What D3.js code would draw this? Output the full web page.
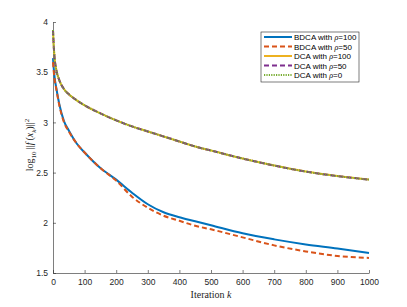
<!DOCTYPE html>
<html>
<head>
<meta charset="utf-8">
<script src="https://cdn.jsdelivr.net/npm/d3@7"></script>
<style>
  body { margin: 0; background: #fff; }
  .tick text { font-family: "Liberation Sans", Arial, sans-serif; font-size: 8.5px; fill: #262626; }
  .lab { font-family: "Liberation Serif", serif; font-size: 10px; fill: #262626; }
  .leg { font-family: "Liberation Sans", Arial, sans-serif; font-size: 8px; fill: #000; }
</style>
</head>
<body>
<script>
var iters = [0, 2, 5, 10, 20, 35, 50, 75, 100, 150, 200, 250, 300, 350, 400, 450, 500, 600, 700, 800, 900, 1000];

var bdca100 = [3.64, 3.55, 3.45, 3.35, 3.18, 3.01, 2.92, 2.79, 2.70, 2.545, 2.43, 2.30, 2.185, 2.105, 2.055, 2.015, 1.975, 1.895, 1.835, 1.785, 1.745, 1.70];
var bdca50  = [3.60, 3.52, 3.43, 3.34, 3.17, 3.00, 2.91, 2.79, 2.70, 2.545, 2.42, 2.26, 2.15, 2.07, 2.02, 1.97, 1.935, 1.855, 1.775, 1.715, 1.67, 1.65];
var dca     = [3.92, 3.78, 3.64, 3.53, 3.42, 3.33, 3.28, 3.22, 3.17, 3.09, 3.02, 2.96, 2.91, 2.86, 2.81, 2.76, 2.72, 2.64, 2.57, 2.51, 2.465, 2.43];

var seriesNames = ["BDCA with ", "BDCA with ", "DCA with ", "DCA with ", "DCA with "];
var rhoValues = ["100", "50", "100", "50", "0"];
var seriesData = [bdca100, bdca50, dca, dca, dca];
var colors = ["#0072BD", "#D95319", "#EDB120", "#7E2F8E", "#77AC30"];
var dashes = [null, "5,3", null, "5,3", "1.2,1.2"];

var xTicks = [0, 100, 200, 300, 400, 500, 600, 700, 800, 900, 1000];
var yTicks = [1.5, 2, 2.5, 3, 3.5, 4];

var width = 407, height = 307;
var margin = { top: 22, right: 38, bottom: 34, left: 53 };

var svg = d3.select("body").append("svg")
  .attr("width", width)
  .attr("height", height);

var x = d3.scaleLinear().domain([0, 1000]).range([margin.left, width - margin.right]);
var y = d3.scaleLinear().domain([1.5, 4]).range([height - margin.bottom, margin.top]);

// axes, ticks pointing inward
var xAxis = svg.append("g")
  .attr("transform", "translate(0," + y(1.5) + ")")
  .call(d3.axisBottom(x).tickValues(xTicks).tickSizeInner(-3).tickSizeOuter(0).tickPadding(6).tickFormat(d3.format("d")));
var yAxis = svg.append("g")
  .attr("transform", "translate(" + x(0) + ",0)")
  .call(d3.axisLeft(y).tickValues(yTicks).tickSizeInner(-3).tickSizeOuter(0).tickPadding(5).tickFormat(d3.format("")));

[xAxis, yAxis].forEach(function (g) {
  g.select(".domain").attr("stroke", "#262626").attr("stroke-width", 0.6);
  g.selectAll(".tick line").attr("stroke", "#262626").attr("stroke-width", 0.6);
});

// lines
var line = d3.line()
  .x(function (d) { return x(d[0]); })
  .y(function (d) { return y(d[1]); })
  .curve(d3.curveMonotoneX);

seriesData.forEach(function (vals, i) {
  svg.append("path")
    .datum(iters.map(function (k, j) { return [k, vals[j]]; }))
    .attr("fill", "none")
    .attr("stroke", colors[i])
    .attr("stroke-width", 2)
    .attr("stroke-dasharray", dashes[i])
    .attr("d", line);
});

// axis labels
var xl = svg.append("text").attr("class", "lab")
  .attr("x", x(500)).attr("y", 298).attr("text-anchor", "middle");
xl.append("tspan").text("Iteration ");
xl.append("tspan").attr("font-style", "italic").text("k");

var yl = svg.append("text").attr("class", "lab")
  .attr("transform", "translate(33,145) rotate(-90)")
  .attr("text-anchor", "middle");
yl.append("tspan").text("log");
yl.append("tspan").attr("font-size", "7px").attr("dy", 2.5).text("10");
yl.append("tspan").attr("dy", -2.5).text("\u2009||");
yl.append("tspan").attr("font-style", "italic").text("f");
yl.append("tspan").text("\u2009(");
yl.append("tspan").attr("font-style", "italic").text("x");
yl.append("tspan").attr("font-style", "italic").attr("font-size", "7px").attr("dy", 2.5).text("k");
yl.append("tspan").attr("dy", -2.5).text(")||");
yl.append("tspan").attr("font-size", "7px").attr("dy", -4).text("2");

// legend
var legend = svg.append("g").attr("transform", "translate(261,32)");
legend.append("rect")
  .attr("width", 98).attr("height", 50)
  .attr("fill", "#fff").attr("stroke", "#262626").attr("stroke-width", 0.6);

seriesNames.forEach(function (name, i) {
  var ry = 5 + i * 9.5;
  legend.append("line")
    .attr("x1", 3).attr("x2", 31).attr("y1", ry).attr("y2", ry)
    .attr("stroke", colors[i]).attr("stroke-width", 2)
    .attr("stroke-dasharray", dashes[i]);
  var t = legend.append("text").attr("class", "leg")
    .attr("x", 33).attr("y", ry + 3);
  t.append("tspan").text(name);
  t.append("tspan").attr("font-family", "Liberation Serif, serif").attr("font-style", "italic").text("\u03C1");
  t.append("tspan").text("=" + rhoValues[i]);
});
</script>
</body>
</html>
